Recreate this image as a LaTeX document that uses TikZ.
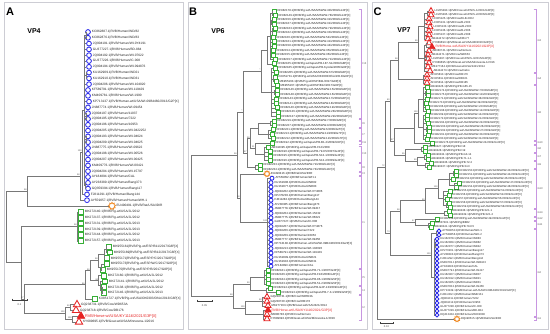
\documentclass[tikz,border=0pt]{standalone}
\usepackage{fontspec}
\setmainfont{Liberation Sans}
\usetikzlibrary{calc,shapes.geometric}
\definecolor{cB}{RGB}{45,45,235}
\definecolor{cG}{RGB}{55,175,55}
\definecolor{cR}{RGB}{230,35,35}
\definecolor{cO}{RGB}{240,140,40}
\definecolor{cP}{RGB}{200,150,225}
\definecolor{cL}{RGB}{120,120,120}
\definecolor{cF}{RGB}{205,205,212}
\def\ty{0}\def\ts{1}\def\msz{4pt}
\newcommand\lblfont{\fontsize{3.2}{3.4}\selectfont}
\newcommand\ptip[5][]{%
  \node[#4] (#2) at (#3,\ty) {};
  \node[lbl,#1] (#2l) at ([xshift=0.9pt]#2.east) {#5};
  \pgfmathparse{\ty+\ts}\xdef\ty{\pgfmathresult}}
\newcommand\inod[4]{\path let \p1=($(#3)!0.5!(#4)$) in (#2pt,\y1) coordinate (#1);}
\newcommand\brn[2]{\foreach \chld in {#2}{\draw[brl] (#1) |- (\chld);}}
\newcommand\bsv[2]{\node[bsl] at (#1) {#2};}
\newcommand\brkt[4]{\draw[brk] let \p1=(#2), \p2=(#3) in
  (#1pt-2.5pt,\y1+1.6pt) -- (#1pt,\y1+1.6pt) -- (#1pt,\y2-1.6pt) -- (#1pt-2.5pt,\y2-1.6pt)
  node[brkl] at (#1pt+1.3pt,{(\y1+\y2)/2}) {#4};}
\begin{document}
\begin{tikzpicture}[x=1pt,y=-1pt,
  brl/.style={draw=cL,line width=0.55pt},
  lbl/.style={anchor=west,inner sep=0pt,font=\lblfont,text=black!85},
  hrs/.style={text=cR,font=\fontsize{3.9}{4}\selectfont},
  bsl/.style={anchor=south east,inner sep=0.3pt,font=\fontsize{2.2}{2.2}\selectfont,text=black!70},
  brk/.style={draw=cP,line width=0.55pt},
  brkl/.style={anchor=west,inner sep=0pt,font=\fontsize{2.7}{2.7}\selectfont,text=black!65},
  mkb/.style={circle,draw=cB,fill=white,line width=0.85pt,inner sep=0pt,minimum size=\msz},
  mkg/.style={rectangle,draw=cG,fill=white,line width=0.85pt,inner sep=0pt,minimum size=\msz},
  mkr/.style={regular polygon,regular polygon sides=3,draw=cR,fill=white,line width=0.85pt,inner sep=0pt,minimum size=1.75*\msz},
  mkrf/.style={mkr,fill=cR},
  mko/.style={star,star points=9,star point ratio=1.45,draw=cO,fill=white,line width=0.8pt,inner sep=0pt,minimum size=1.5*\msz},
  frame/.style={draw=cF,line width=0.6pt},
  plet/.style={font=\bfseries\fontsize{11}{11}\selectfont},
  vpl/.style={font=\bfseries\fontsize{7}{7}\selectfont},
  scl/.style={draw=black!75,line width=0.45pt},
  sclt/.style={font=\fontsize{2.6}{2.6}\selectfont,text=black!75,inner sep=0pt}]
\useasboundingbox (0,0) rectangle (550,334);
\fill[white] (0,0) rectangle (550,334);
\draw[frame] (4,2) rectangle (183,329);
\draw[frame] (188,2) rectangle (367,329);
\draw[frame] (372,2) rectangle (548,329);
\node[plet] (LA) at (10,11.5) {A};
\node[plet] (LB) at (193,11.5) {B};
\node[plet] (LC) at (377.5,11.5) {C};
\node[vpl] (VA) at (34,31) {VP4};
\node[vpl] (VB) at (218,31) {VP6};
\node[vpl] (VC) at (404,30) {VP7};

% ================= PANEL A =================
\def\ty{32}\def\ts{5.8}\def\msz{4.8pt}\renewcommand\lblfont{\fontsize{3.2}{3.4}\selectfont}
\ptip{a0}{88}{mkb}{KC862887.1|RVB/Human/IND/82}
\ptip{a1}{88}{mkb}{KC862876.1|RVB/Human/IND/83}
\ptip{a2}{89}{mkb}{JQ904191.1|RVB/Human/WI-0Y4191}
\ptip{a3}{89}{mkb}{GU377227.1|RVB/Human/BD-884}
\ptip{a4}{89}{mkb}{JQ904192.1|RVB/Human/WI-07622}
\ptip{a5}{89}{mkb}{GU377226.1|RVB/Human/IC-008}
\ptip{a6}{89}{mkb}{JQ904194.1|RVB/Human/WI-094876}
\ptip{a7}{89}{mkb}{KU162909.1|RVB/Human/IND21}
\ptip{a8}{89}{mkb}{KU162910.1|RVB/Human/IND31}
\ptip{a9}{89}{mkb}{JQ904206.1|RVB/Human/WI-104020}
\ptip{a10}{88}{mkb}{KF589791.1|RVB/Human/WI-119429}
\ptip{a11}{88}{mkb}{KM409781.1|RVB/Human/WI-1990}
\ptip{a12}{89}{mkb}{KP713137.1|RVB/Human-wt/USA/WI-09B4460/2013/G2P[X]}
\ptip{a13}{88}{mkb}{JN887774.1|RVB/Human/WI-09454}
\ptip{a14}{88}{mkb}{JQ904197.1|RVB/Human/11037}
\ptip{a15}{88}{mkb}{JQ904195.1|RVB/Human/7222}
\ptip{a16}{88}{mkb}{JQ904196.1|RVB/Human/10953}
\ptip{a17}{88}{mkb}{JQ904205.1|RVB/Human/WI-0422252}
\ptip{a18}{88}{mkb}{JQ904193.1|RVB/Human/WI-04624}
\ptip{a19}{88}{mkb}{JQ904209.1|RVB/Human/WI-04625}
\ptip{a20}{88}{mkb}{JN887775.1|RVB/Human/WI-09622}
\ptip{a21}{88}{mkb}{JQ904198.1|RVB/Human/WI-00526}
\ptip{a22}{88}{mkb}{JQ904207.1|RVB/Human/WI-00425}
\ptip{a23}{88}{mkb}{KM409776.1|RVB/Human/WI-00421}
\ptip{a24}{88}{mkb}{JQ904204.1|RVB/Human/WI-15797}
\ptip{a25}{88}{mkb}{AY184894.1|RVB/Human/CAL}
\ptip{a26}{88}{mkb}{AY238389.1|RVB/Human/Bang373}
\ptip{a27}{88}{mkb}{GQ359394.1|RVB/Human/Bang117}
\ptip{a28}{87}{mkb}{FJ811291.1|RVB/Human/Bang144}
\ptip{a29}{87}{mkb}{AY559057.1|RVB/Human/Human/WH-1}
\ptip{a30}{112}{mko}{EU490491.1|RVB/Rat/USA/IDIR}
\ptip{a31}{81}{mkg}{MK272140.1|RVB/Pig-wt/USA/JL/2012}
\ptip{a32}{81}{mkg}{MK272137.1|RVB/Pig-wt/USA/JL/2012}
\ptip{a33}{81}{mkg}{MK272131.1|RVB/Pig-wt/USA/JL/2013}
\ptip{a34}{81}{mkg}{MK272139.1|RVB/Pig-wt/USA/JL/2013}
\ptip{a35}{81}{mkg}{MK272144.1|RVB/Pig-wt/USA/JL/2012}
\ptip{a36}{81}{mkg}{MK272157.1|RVB/Pig-wt/USA/JL/2013}
\ptip{a37}{109}{mkg}{MK955161|RVB/Pig-wt/ESP/B11/2017/G8P[X]}
\ptip{a38}{110}{mkg}{MK955169|RVB/Pig-wt/ESP/B12/2017/G8P[X]}
\ptip{a39}{107}{mkg}{MK955171|RVB/Pig-wt/ESP/P/C/2017/G8P[X]}
\ptip{a40}{107}{mkg}{MK955173|RVB/Pig-wt/ESP/W/C/2017/G8P[X]}
\ptip{a41}{103}{mkg}{MK955170|RVB/Pig-wt/ESP/P/B/2017/G8P[X]}
\ptip{a42}{104}{mkg}{MK272160.1|RVB/Pig-wt/USA/JL/2012}
\ptip{a43}{105}{mkg}{MK272141.1|RVB/Pig-wt/USA/JL/2012}
\ptip{a44}{104}{mkg}{MK272138.1|RVB/Pig-wt/USA/JL/2012}
\ptip{a45}{104}{mkg}{MK272146.1|RVB/Pig-wt/USA/JL/2013}
\ptip{a46}{95}{mkg}{KX851727.1|RVB/Pig-wt/USA/OK0303/Ohio/2013/G8P[X]}
\ptip{a47}{77}{mkr}{GQ238731.1|RVB/Cow/WD653A}
\ptip{a48}{76}{mkr}{GQ238718.1|RVB/Cow/DB176}
\ptip[hrs]{a49}{81}{mkrf}{RVB/Horse-wt/USA/KY1116/2021/G3P[X]}
\ptip{a50}{79}{mkr}{KY689695.1|RVB/Goat-wt/USA/Minnesota-1/2016}
% tree A
\inod{ap01}{86}{a0}{a1}\brn{ap01}{a0.west,a1.west}
\inod{ap78}{86}{a7}{a8}\brn{ap78}{a7.west,a8.west}
\inod{ap1415}{86}{a14}{a15}\brn{ap1415}{a14.west,a15.west}
\inod{ap1819}{86}{a18}{a19}\brn{ap1819}{a18.west,a19.west}
\inod{ap2627}{85.7}{a26}{a27}\brn{ap2627}{a26.west,a27.west}
\inod{ABtop}{84}{ap01}{ap2627}
\brn{ABtop}{ap01,a2.west,a3.west,a4.west,a5.west,a6.west,ap78,a9.west,a10.west,a11.west,a12.west,a13.west,ap1415,a16.west,a17.west,ap1819,a20.west,a21.west,a22.west,a23.west,a24.west,a25.west,ap2627}
\inod{AB1}{82}{ABtop}{a28}\brn{AB1}{ABtop,a28.west}
\inod{AB}{80}{AB1}{a29}\brn{AB}{AB1,a29.west}
\inod{AU}{27}{AB}{a30}\brn{AU}{AB,a30.west}
\inod{AG1}{77}{a31}{a36}\brn{AG1}{a31.west,a32.west,a33.west,a34.west,a35.west,a36.west}
\inod{ag1}{106}{a37}{a38}\brn{ag1}{a37.west,a38.west}
\inod{ag2}{104}{ag1}{a39}\brn{ag2}{ag1,a39.west}
\inod{ag3}{101}{a40}{a41}\brn{ag3}{a40.west,a41.west}
\inod{ag4}{98}{ag2}{ag3}\brn{ag4}{ag2,ag3}
\inod{ag5}{102}{a44}{a45}\brn{ag5}{a44.west,a45.west}
\inod{ag6}{100.5}{a43}{ag5}\brn{ag6}{a43.west,ag5}
\inod{ag7}{98.5}{a42}{ag6}\brn{ag7}{a42.west,ag6}
\inod{AG2x}{90}{ag4}{ag7}\brn{AG2x}{ag4,ag7}
\inod{AG2}{85}{AG2x}{a46}\brn{AG2}{AG2x,a46.west}
\inod{ARr1}{70}{a47}{a48}\brn{ARr1}{a47.west,a48.west}
\inod{ARr2}{72}{a49}{a50}\brn{ARr2}{a49.west,a50.west}
\inod{ARr}{65}{ARr1}{ARr2}\brn{ARr}{ARr1,ARr2}
\inod{AL2}{24}{AG2}{ARr}\brn{AL2}{AG2,ARr}
\inod{AL}{21}{AG1}{AL2}\brn{AL}{AG1,AL2}
\inod{AR}{6}{AU}{AL}\brn{AR}{AU,AL}
\bsv{AU}{98}\bsv{AB}{98}\bsv{AB1}{100}\bsv{AG1}{98}\bsv{AG2}{86}\bsv{ag4}{98}\bsv{ag7}{80}
\bsv{ARr}{100}\bsv{ARr1}{99}\bsv{ARr2}{100}\bsv{AL2}{97}\bsv{AG2x}{99}
\coordinate (sa1) at (12,300); \coordinate (sa2) at (27,300);
\draw[scl] ([yshift=1.3pt]sa1) -- (sa1) -- (sa2) -- ([yshift=1.3pt]sa2);
\node[sclt] (sat) at (19.5,304.5) {0.1};

% ================= PANEL B =================
\def\ty{11}\def\ts{4.4}\def\msz{4pt}\renewcommand\lblfont{\fontsize{2.9}{3}\selectfont}
\tikzset{hrs/.style={text=cR,font=\fontsize{3.3}{3.4}\selectfont}}
\ptip{b0}{274}{mkg}{KF982178.1|RVB/Pig-wt/USA/MSWW-40/2009/G14P[X]}
\ptip{b1}{275}{mkg}{KF982149.1|RVB/Pig-wt/USA/MSWW-78/2009/G14P[X]}
\ptip{b2}{274}{mkg}{KF982156.1|RVB/Pig-wt/USA/MSWW-32/2009/G14P[X]}
\ptip{b3}{274}{mkg}{KF982167.1|RVB/Pig-wt/USA/MSWW-31/2009/G14P[X]}
\ptip{b4}{275}{mkg}{KF982163.1|RVB/Pig-wt/USA/MSWW-79/2009/G14P[X]}
\ptip{b5}{274}{mkg}{KF982162.1|RVB/Pig-wt/USA/MSWW-33/2009/G14P[X]}
\ptip{b6}{273}{mkg}{KF982160.1|RVB/Pig-wt/USA/MSWW-54/2009/G14P[X]}
\ptip{b7}{274}{mkg}{KF982161.1|RVB/Pig-wt/USA/MSWW-41/2009/G14P[X]}
\ptip{b8}{274}{mkg}{KF982158.1|RVB/Pig-wt/USA/MSWW-44/2009/G14P[X]}
\ptip{b9}{273}{mkg}{KF982154.1|RVB/Pig-wt/USA/MSWW-35/2009/G14P[X]}
\ptip{b10}{273}{mkg}{KF982155.1|RVB/Pig-wt/USA/MSWW-36/2009/G14P[X]}
\ptip{b11}{275}{mkg}{KF982157.1|RVB/Pig-wt/USA/MSWW-71/2009/G14P[X]}
\ptip{b12}{274}{mkg}{KF982165.1|RVB/Pig-wt/Japan/PB-187-S1/2009/G8P[X]}
\ptip{b13}{275}{mkg}{KF982185.1|RVB/Pig-wt/Japan/PB-Kyodai/2005/G8P[X]}
\ptip{b14}{276}{mkg}{KF982205.1|RVB/Pig-wt/USA/MSWW-67/2009/G8P[X]}
\ptip{b15}{275}{mkg}{KX851731.1|RVB/Pig-wt/USA/OK0303/Ohio/2013/G8P[X]}
\ptip{b16}{276}{mkg}{MK955163.1|RVB/Pig-wt/ESP/B11/2017/G8P[X]}
\ptip{b17}{277}{mkg}{MK955167.1|RVB/Pig-wt/ESP/B12/2017/G8P[X]}
\ptip{b18}{277}{mkg}{KF982146.1|RVB/Pig-wt/USA/MSWW-15/2009/G8P[X]}
\ptip{b19}{277}{mkg}{KF982148.1|RVB/Pig-wt/USA/MSWW-16/2009/G8P[X]}
\ptip{b20}{276}{mkg}{KF982143.1|RVB/Pig-wt/USA/MSWW-17/2009/G8P[X]}
\ptip{b21}{276}{mkg}{KF982141.1|RVB/Pig-wt/USA/MSWW-18/2009/G8P[X]}
\ptip{b22}{277}{mkg}{KF982140.1|RVB/Pig-wt/USA/MSWW-19/2009/G8P[X]}
\ptip{b23}{278}{mkg}{KF982136.1|RVB/Pig-wt/USA/MSWW-28/2009/G8P[X]}
\ptip{b24}{278}{mkg}{KF982137.1|RVB/Pig-wt/USA/MSWW-29/2009/G8P[X]}
\ptip{b25}{274}{mkg}{KF982219.1|RVB/Pig-wt/USA/MSWW-7/2009/G6P[X]}
\ptip{b26}{274}{mkg}{KF982227.1|RVB/Pig-wt/USA/MSWW-9/2009/G6P[X]}
\ptip{b27}{273}{mkg}{KF982221.1|RVB/Pig-wt/USA/MSWW-6/2009/G7P[X]}
\ptip{b28}{272}{mkg}{KF982213.1|RVB/Pig-wt/USA/MSWW-11/2009/G7P[X]}
\ptip{b29}{273}{mkg}{KF982212.1|RVB/Pig-wt/USA/MSWW-12/2009/G7P[X]}
\ptip{b30}{272}{mkg}{KF982192.1|RVB/Pig-wt/Japan/PB-B1-2/2009/G5P[X]}
\ptip{b31}{268}{mkg}{AB342395.1|RVB/Pig-wt/Japan/PB-F12/2008}
\ptip{b32}{270}{mkg}{KF982190.1|RVB/Pig-wt/Japan/PB-79-K5/2007/G4P[X]}
\ptip{b33}{270}{mkg}{KF982195.1|RVB/Pig-wt/Japan/PB-S13-1/2009/G4P[X]}
\ptip{b34}{270}{mkg}{KF982196.1|RVB/Pig-wt/Japan/PB-S13-2/2009/G4P[X]}
\ptip{b35}{260}{mkg}{KF982233.1|RVB/Pig-wt/USA/MSWW-72/2009/G11P[X]}
\ptip{b36}{260}{mkg}{KF982234.1|RVB/Pig-wt/USA/MSWW-74/2009/G11P[X]}
\ptip{b37}{267}{mko}{EU490416.1|RVB/Rat/USA/IDIR}
\ptip{b38}{272}{mkb}{AY559052.1|RVB/Human/WH-1}
\ptip{b39}{271}{mkb}{KU162908.1|RVB/Human/IND82}
\ptip{b40}{271}{mkb}{KU162877.1|RVB/Human/IND83}
\ptip{b41}{271}{mkb}{JQ904202.1|RVB/Human/WI-0Y4006}
\ptip{b42}{271}{mkb}{KP270203.1|RVB/Human/Bang117}
\ptip{b43}{271}{mkb}{FJ811282.1|RVB/Human/Bang144}
\ptip{b44}{271}{mkb}{AY238385.1|RVB/Human/Bang373}
\ptip{b45}{271}{mkb}{JN887778.1|RVB/Human/WI-09417}
\ptip{b46}{271}{mkb}{JQ904204.1|RVB/Human/WI-15232}
\ptip{b47}{271}{mkb}{JN887775.1|RVB/Human/WI-06621}
\ptip{b48}{271}{mkb}{GU377227.1|RVB/Human/IC-008}
\ptip{b49}{271}{mkb}{JQ904207.1|RVB/Human/WI-0Y4876}
\ptip{b50}{271}{mkb}{JQ904206.1|RVB/Human/7222}
\ptip{b51}{271}{mkb}{JQ904209.1|RVB/Human/10953}
\ptip{b52}{271}{mkb}{JN887777.1|RVB/Human/WI-09456}
\ptip{b53}{271}{mkb}{KP713138.1|RVB/Human-wt/USA/WI-09B4460/2013/G2P[X]}
\ptip{b54}{271}{mkb}{JQ904213.1|RVB/Human/WI-104020}
\ptip{b55}{271}{mkb}{KF589791.1|RVB/Human/WI-119429}
\ptip{b56}{271}{mkb}{KU162899.1|RVB/Human/IND21}
\ptip{b57}{271}{mkb}{KU162910.1|RVB/Human/IND31}
\ptip{b58}{271}{mkb}{AY184893.1|RVB/Human/CAL}
\ptip{b59}{268}{mkg}{KF982181.1|RVB/Pig-wt/Japan/PB-71-1/2007/G3P[X]}
\ptip{b60}{268}{mkg}{KF982186.1|RVB/Pig-wt/Japan/PB-F18/2008/G4P[X]}
\ptip{b61}{268}{mkg}{KF982184.1|RVB/Pig-wt/Japan/PB-86-1/2009/G5P[X]}
\ptip{b62}{268}{mkg}{KF982183.1|RVB/Pig-wt/Japan/PB-51-2/2009/G5P[X]}
\ptip{b63}{270}{mkg}{KF982194.1|RVB/Pig-wt/Japan/PB-G4P-13/2009/G3P[X]}
\ptip{b64}{278}{mkg}{KF982193.1|RVB/Pig-wt/Japan/PB-7-3-1/2009/G5P[X]}
\ptip{b65}{267}{mkr}{GQ238731.1|RVB/Cow/WD653A}
\ptip{b66}{267}{mkr}{GQ238720.1|RVB/Cow/DB176}
\ptip{b67}{268}{mkr}{MK277163.1|RVB/Goat-wt/USA/2421/2014}
\ptip[hrs]{b68}{268}{mkrf}{RVB/Horse-wt/USA/KY1116/2021/G3P[X]}
\ptip{b69}{267}{mkr}{AB080740.1|RVB/Cow/Nemuro}
\ptip{b70}{267}{mkr}{KY689692.1|RVB/Goat-wt/USA/Minnesota-1/2016}
% tree B
\inod{bq01}{272}{b0}{b1}\brn{bq01}{b0.west,b1.west}
\inod{bq23}{271.5}{b2}{b3}\brn{bq23}{b2.west,b3.west}
\inod{bq45}{272}{b4}{b5}\brn{bq45}{b4.west,b5.west}
\inod{BGa}{270}{bq01}{b11}\brn{BGa}{bq01,bq23,bq45,b6.west,b7.west,b8.west,b9.west,b10.west,b11.west}
\inod{BGa2}{267}{BGa}{b12}\brn{BGa2}{BGa,b12.west}
\inod{bq1516}{273}{b15}{b16}\brn{bq1516}{b15.west,b16.west}
\inod{bq1819}{274.5}{b18}{b19}\brn{bq1819}{b18.west,b19.west}
\inod{BGb}{271}{b13}{b24}\brn{BGb}{b13.west,b14.west,bq1516,b17.west,bq1819,b20.west,b21.west,b22.west,b23.west,b24.west}
\inod{BG13}{261}{BGa2}{BGb}\brn{BG13}{BGa2,BGb}
\inod{BI6}{270}{b25}{b26}\brn{BI6}{b25.west,b26.west}
\inod{BI7}{268}{b27}{b29}\brn{BI7}{b27.west,b28.west,b29.west}
\inod{BI67}{258}{BI6}{BI7}\brn{BI67}{BI6,BI7}
\inod{BI10}{264}{b31}{b34}\brn{BI10}{b31.west,b32.west,b33.west,b34.west}
\inod{BI1110}{255}{b30}{BI10}\brn{BI1110}{b30.west,BI10}
\inod{BI8}{255}{b35}{b36}\brn{BI8}{b35.west,b36.west}
\inod{BGm1}{250}{BI67}{BI1110}\brn{BGm1}{BI67,BI1110}
\inod{BGm}{247}{BGm1}{BI8}\brn{BGm}{BGm1,BI8}
\inod{BG}{243}{BG13}{BGm}\brn{BG}{BG13,BGm}
\inod{BB}{267.5}{b38}{b58}\brn{BB}{b38.west,b39.west,b40.west,b41.west,b42.west,b43.west,b44.west,b45.west,b46.west,b47.west,b48.west,b49.west,b50.west,b51.west,b52.west,b53.west,b54.west,b55.west,b56.west,b57.west,b58.west}
\inod{BOB}{240}{b37}{BB}\brn{BOB}{b37.west,BB}
\inod{BU}{237}{BG}{BOB}\brn{BU}{BG,BOB}
\inod{BI5}{264}{b59}{b62}\brn{BI5}{b59.west,b60.west,b61.west,b62.west}
\inod{BI4}{266}{b63}{b64}\brn{BI4}{b63.west,b64.west}
\inod{BI54}{250}{BI5}{BI4}\brn{BI54}{BI5,BI4}
\inod{BI2a}{262}{b65}{b67}\brn{BI2a}{b65.west,b66.west,b67.west}
\inod{BI2b}{263}{b68}{b70}\brn{BI2b}{b68.west,b69.west,b70.west}
\inod{BI2}{245}{BI2a}{BI2b}\brn{BI2}{BI2a,BI2b}
\inod{BL}{233}{BI54}{BI2}\brn{BL}{BI54,BI2}
\inod{BR}{191}{BU}{BL}\brn{BR}{BU,BL}
\bsv{BU}{98}\bsv{BG}{*}\bsv{BG13}{*}\bsv{BGm}{97}\bsv{BGm1}{99}\bsv{BOB}{98}\bsv{BB}{100}
\bsv{BL}{98}\bsv{BI54}{99}\bsv{BI2}{100}\bsv{BI2a}{99}\bsv{BI1110}{91}
\brkt{361}{b0}{b24}{I13}
\brkt{361}{b25}{b26}{I6}
\brkt{361}{b27}{b29}{I7}
\brkt{361}{b30}{b30}{I11}
\brkt{361}{b31}{b34}{I10}
\brkt{361}{b35}{b36}{I8}
\brkt{361}{b37}{b37}{I3}
\brkt{361}{b38}{b58}{I1}
\brkt{361}{b59}{b62}{I5}
\brkt{361}{b63}{b64}{I4}
\brkt{361}{b65}{b70}{I2}
\coordinate (sb1) at (197,301); \coordinate (sb2) at (212,301);
\draw[scl] ([yshift=1.3pt]sb1) -- (sb1) -- (sb2) -- ([yshift=1.3pt]sb2);
\node[sclt] (sbt) at (204.5,305.5) {0.05};

% ================= PANEL C =================
\def\ty{11}\def\ts{4}\def\msz{3.9pt}\renewcommand\lblfont{\fontsize{2.8}{2.9}\selectfont}
\tikzset{hrs/.style={text=cR,font=\fontsize{3.2}{3.3}\selectfont}}
\ptip{c0}{431}{mkr}{LC265490.1|RVB/Cow-wt/JPN/S-1/2001/G3P[X]}
\ptip{c1}{431}{mkr}{LC265495.1|RVB/Cow-wt/JPN/S-2/2006/G3P[X]}
\ptip{c2}{429}{mkr}{LC065125.1|RVB/Cow/ELB-2002}
\ptip{c3}{429}{mkr}{LC065131.1|RVB/Cow/B-2003}
\ptip{c4}{430}{mkr}{LC065133.1|RVB/Cow/B-2000}
\ptip{c5}{429}{mkr}{LC065136.1|RVB/Cow/B-2006}
\ptip{c6}{429}{mkr}{LC065137.1|RVB/Cow/B-2008}
\ptip{c7}{428}{mkr}{AB444472.1|RVB/Cow/DB177}
\ptip{c8}{429}{mkr}{KY689693.1|RVB/Goat-wt/USA/AB/2016/G3P[X]}
\ptip[hrs]{c9}{432}{mkrf}{RVB/Horse-wt/USA/KY1116/2021/G3P[X]}
\ptip{c10}{429}{mkr}{AB080741.1|RVB/Cow/Nemuro}
\ptip{c11}{428}{mkr}{AB444471.1|RVB/Cow/WD653}
\ptip{c12}{428}{mkr}{LC265497.1|RVB/Cow-wt/JPN/S-3/2015/G3P[X]}
\ptip{c13}{429}{mkr}{KY689695.1|RVB/Goat-wt/USA/Minnesota-1/2016}
\ptip{c14}{428}{mkr}{MK277164.1|RVB/Goat-wt/USA/2421/2014}
\ptip{c15}{430}{mkr}{AB444473.1|RVB/Cow/mebo}
\ptip{c16}{427}{mkr}{AF325810.1|RVB/Cow/DB176}
\ptip{c17}{427}{mkr}{AF325811.1|RVB/Cow/DB101}
\ptip{c18}{427}{mkr}{AF325814.1|RVB/Cow/DB185}
\ptip{c19}{427}{mkg}{AB490426.1|RVB/Pig/PB-G65-15}
\ptip{c20}{428}{mkg}{KF982174.1|RVB/Pig-wt/USA/MSWW-7/2009/G8P[X]}
\ptip{c21}{428}{mkg}{KF982175.1|RVB/Pig-wt/USA/MSWW-11/2009/G8P[X]}
\ptip{c22}{427}{mkg}{KF982171.1|RVB/Pig-wt/USA/MSWW-38/2009/G8P[X]}
\ptip{c23}{426}{mkg}{KF982170.1|RVB/Pig-wt/USA/MSWW-39/2009/G8P[X]}
\ptip{c24}{427}{mkg}{KF982166.1|RVB/Pig-wt/USA/MSWW-1/2009/G8P[X]}
\ptip{c25}{428}{mkg}{KF982168.1|RVB/Pig-wt/USA/MSWW-12/2009/G8P[X]}
\ptip{c26}{427}{mkg}{KF982169.1|RVB/Pig-wt/USA/MSWW-14/2009/G8P[X]}
\ptip{c27}{427}{mkg}{KF982172.1|RVB/Pig-wt/USA/MSWW-21/2009/G8P[X]}
\ptip{c28}{428}{mkg}{KF982164.1|RVB/Pig-wt/USA/MSWW-22/2009/G8P[X]}
\ptip{c29}{429}{mkg}{KF982163.1|RVB/Pig-wt/USA/MSWW-26/2009/G8P[X]}
\ptip{c30}{429}{mkg}{KF982162.1|RVB/Pig-wt/USA/MSWW-27/2009/G8P[X]}
\ptip{c31}{428}{mkg}{KF982161.1|RVB/Pig-wt/USA/MSWW-30/2009/G8P[X]}
\ptip{c32}{427}{mkg}{KF982160.1|RVB/Pig-wt/USA/MSWW-31/2009/G8P[X]}
\ptip{c33}{432}{mkg}{KF982176.1|RVB/Pig-wt/USA/MSWW-24/2009/G10P[X]}
\ptip{c34}{425}{mkg}{AB490427.1|RVB/Pig/PB-F18}
\ptip{c35}{425}{mkg}{AB490428.1|RVB/Pig/PB-F19}
\ptip{c36}{428}{mkg}{AB490434.1|RVB/Pig/PB-G3-14}
\ptip{c37}{428}{mkg}{AB490435.1|RVB/Pig/PB-71-1-1}
\ptip{c38}{431}{mkg}{AB490436.1|RVB/Pig/PB-72-2}
\ptip{c39}{429}{mkg}{AB490437.1|RVB/Pig/PB-S13}
\ptip{c40}{456}{mkg}{KF982150.1|RVB/Pig-wt/USA/MSWW-43/2009/G13P[X]}
\ptip{c41}{456}{mkg}{KF982151.1|RVB/Pig-wt/USA/MSWW-44/2009/G13P[X]}
\ptip{c42}{453}{mkg}{KF982152.1|RVB/Pig-wt/USA/MSWW-45/2009/G13P[X]}
\ptip{c43}{459}{mkg}{KF982153.1|RVB/Pig-wt/USA/MSWW-47/2009/G13P[X]}
\ptip{c44}{456}{mkg}{KF982154.1|RVB/Pig-wt/USA/MSWW-48/2009/G13P[X]}
\ptip{c45}{450}{mkg}{KF982155.1|RVB/Pig-wt/USA/MSWW-51/2009/G13P[X]}
\ptip{c46}{449}{mkg}{KF982156.1|RVB/Pig-wt/USA/MSWW-52/2009/G13P[X]}
\ptip{c47}{447}{mkg}{KF982157.1|RVB/Pig-wt/USA/MSWW-55/2009/G13P[X]}
\ptip{c48}{449}{mkg}{KF982158.1|RVB/Pig-wt/USA/MSWW-57/2009/G13P[X]}
\ptip{c49}{450}{mkg}{KF982159.1|RVB/Pig-wt/USA/MSWW-58/2009/G13P[X]}
\ptip{c50}{449}{mkg}{AB490438.1|RVB/Pig/PB-S21-1}
\ptip{c51}{450}{mkg}{AB490439.1|RVB/Pig/PB-S21-2}
\ptip{c52}{437}{mkg}{KF982149.1|RVB/Pig-wt/USA/MSWW-49/2009/G12P[X]}
\ptip{c53}{432}{mkg}{AB437401.1|RVB/Pig/BB62}
\ptip{c54}{431}{mkg}{AB490441.1|RVB/Pig/PB-79-K5}
\ptip{c55}{439}{mkb}{AY559050.1|RVB/Human/WH-1}
\ptip{c56}{439}{mkb}{AY539856.1|RVB/Human/WH-2}
\ptip{c57}{437}{mkb}{KU162878.1|RVB/Human/IND83}
\ptip{c58}{437}{mkb}{KU162869.1|RVB/Human/IND82}
\ptip{c59}{437}{mkb}{KU162877.1|RVB/Human/IND42}
\ptip{c60}{437}{mkb}{KP270201.1|RVB/Human/Bang117}
\ptip{c61}{437}{mkb}{AY238393.1|RVB/Human/Bang373}
\ptip{c62}{437}{mkb}{FJ811292.1|RVB/Human/Bang144}
\ptip{c63}{437}{mkb}{KM09781.1|RVB/Human/WI-09B423}
\ptip{c64}{437}{mkb}{AY184893.1|RVB/Human/CAL}
\ptip{c65}{437}{mkb}{KM09779.1|RVB/Human/WI-09417}
\ptip{c66}{437}{mkb}{KU162907.1|RVB/Human/IND07}
\ptip{c67}{437}{mkb}{KU162912.1|RVB/Human/IND21}
\ptip{c68}{437}{mkb}{KU162905.1|RVB/Human/IND31}
\ptip{c69}{437}{mkb}{KM09780.1|RVB/Human/WI-09456}
\ptip{c70}{437}{mkb}{KP713139.1|RVB/Human-wt/USA/WI-09B4460/2013/G2P[X]}
\ptip{c71}{437}{mkb}{FJ811302.1|RVB/Human/MMR-B1}
\ptip{c72}{437}{mkb}{JQ904211.1|RVB/Human/7222}
\ptip{c73}{437}{mkb}{JQ904212.1|RVB/Human/10953}
\ptip{c74}{437}{mkb}{GU377228.1|RVB/Human/IC-008}
\ptip{c75}{437}{mkb}{GU377229.1|RVB/Human/BD-884}
\ptip{c76}{437}{mkb}{HQ410404.1|RVB/Human/WH/2008}
\ptip{c77}{457}{mko}{DQ490515.1|RVB/Rat/USA/IDIR}
% tree C
\inod{cs01}{427}{c0}{c1}\brn{cs01}{c0.west,c1.west}
\inod{CG4a}{424}{cs01}{c7}\brn{CG4a}{cs01,c2.west,c3.west,c4.west,c5.west,c6.west,c7.west}
\inod{cs89}{426.5}{c8}{c9}\brn{cs89}{c8.west,c9.west}
\inod{cs1112}{426}{c11}{c12}\brn{cs1112}{c11.west,c12.west}
\inod{CG4b}{424}{cs89}{c15}\brn{CG4b}{cs89,c10.west,cs1112,c13.west,c14.west,c15.west}
\inod{CG4}{418}{CG4a}{CG4b}\brn{CG4}{CG4a,CG4b}
\inod{CG3}{423}{c16}{c18}\brn{CG3}{c16.west,c17.west,c18.west}
\inod{Cred}{398}{CG4}{CG3}\brn{Cred}{CG4,CG3}
\inod{ct1}{425.5}{c20}{c21}\brn{ct1}{c20.west,c21.west}
\inod{CG8a}{423}{c19}{c25}\brn{CG8a}{c19.west,ct1,c22.west,c23.west,c24.west,c25.west}
\inod{ct2}{426}{c29}{c30}\brn{ct2}{c29.west,c30.west}
\inod{CG8b}{423}{c26}{c32}\brn{CG8b}{c26.west,c27.west,c28.west,ct2,c31.west,c32.west}
\inod{CG8}{418}{CG8a}{CG8b}\brn{CG8}{CG8a,CG8b}
\inod{CG810}{414}{CG8}{c33}\brn{CG810}{CG8,c33.west}
\inod{CG6}{421}{c34}{c35}\brn{CG6}{c34.west,c35.west}
\inod{CG7}{424}{c36}{c37}\brn{CG7}{c36.west,c37.west}
\inod{CG9}{425}{c38}{c39}\brn{CG9}{c38.west,c39.west}
\inod{CG79}{417}{CG7}{CG9}\brn{CG79}{CG7,CG9}
\inod{CG69}{405}{CG6}{CG79}\brn{CG69}{CG6,CG79}
\inod{CgrA}{394}{CG810}{CG69}\brn{CgrA}{CG810,CG69}
\inod{CUp}{390}{Cred}{CgrA}\brn{CUp}{Cred,CgrA}
\inod{cu1}{453}{c40}{c41}\brn{cu1}{c40.west,c41.west}
\inod{cu2}{454.5}{c43}{c44}\brn{cu2}{c43.west,c44.west}
\inod{CG13a}{449}{cu1}{cu2}\brn{CG13a}{cu1,c42.west,cu2}
\inod{cu4}{446}{c48}{c49}\brn{cu4}{c48.west,c49.west}
\inod{CG13b}{443}{c45}{cu4}\brn{CG13b}{c45.west,c46.west,c47.west,cu4}
\inod{CG13}{438}{CG13a}{CG13b}\brn{CG13}{CG13a,CG13b}
\inod{CG14}{444}{c50}{c51}\brn{CG14}{c50.west,c51.west}
\inod{CG1314}{425}{CG13}{CG14}\brn{CG1314}{CG13,CG14}
\inod{CG11}{428}{c53}{c54}\brn{CG11}{c53.west,c54.west}
\inod{CG1211}{415}{c52}{CG11}\brn{CG1211}{c52.west,CG11}
\inod{CgrB}{400}{CG1314}{CG1211}\brn{CgrB}{CG1314,CG1211}
\inod{CB1}{436}{c55}{c56}\brn{CB1}{c55.west,c56.west}
\inod{cv1}{435.5}{c58}{c59}\brn{cv1}{c58.west,c59.west}
\inod{CB2}{434}{c57}{c76}\brn{CB2}{c57.west,cv1,c60.west,c61.west,c62.west,c63.west,c64.west,c65.west,c66.west,c67.west,c68.west,c69.west,c70.west,c71.west,c72.west,c73.west,c74.west,c75.west,c76.west}
\inod{CBlue}{431}{CB1}{CB2}\brn{CBlue}{CB1,CB2}
\inod{CLo}{390}{CgrB}{CBlue}\brn{CLo}{CgrB,CBlue}
\inod{CA}{385}{CUp}{CLo}\brn{CA}{CUp,CLo}
\inod{CR}{377}{CA}{c77}\brn{CR}{CA,c77.west}
\bsv{Cred}{98}\bsv{CUp}{80}\bsv{CgrA}{97}\bsv{CG4}{99}\bsv{CG8}{100}\bsv{CG69}{95}\bsv{CG79}{99}
\bsv{CgrB}{98}\bsv{CG1314}{99}\bsv{CG13}{100}\bsv{CBlue}{100}\bsv{CLo}{73}\bsv{CA}{72}\bsv{CG1211}{97}
\brkt{536}{c0}{c15}{G3}
\brkt{536}{c16}{c18}{G4}
\brkt{536}{c19}{c32}{G8}
\brkt{536}{c33}{c33}{G10}
\brkt{536}{c34}{c35}{G6}
\brkt{536}{c36}{c37}{G7}
\brkt{536}{c38}{c39}{G9}
\brkt{536}{c40}{c49}{G13}
\brkt{536}{c50}{c51}{G14}
\brkt{536}{c52}{c52}{G12}
\brkt{536}{c53}{c54}{G11}
\brkt{536}{c55}{c76}{G2}
\brkt{536}{c77}{c77}{G1}
\coordinate (sc1) at (380,323); \coordinate (sc2) at (393,323);
\draw[scl] ([yshift=1.3pt]sc1) -- (sc1) -- (sc2) -- ([yshift=1.3pt]sc2);
\node[sclt] (sct) at (386.5,326.3) {0.10};
\end{tikzpicture}
\end{document}
